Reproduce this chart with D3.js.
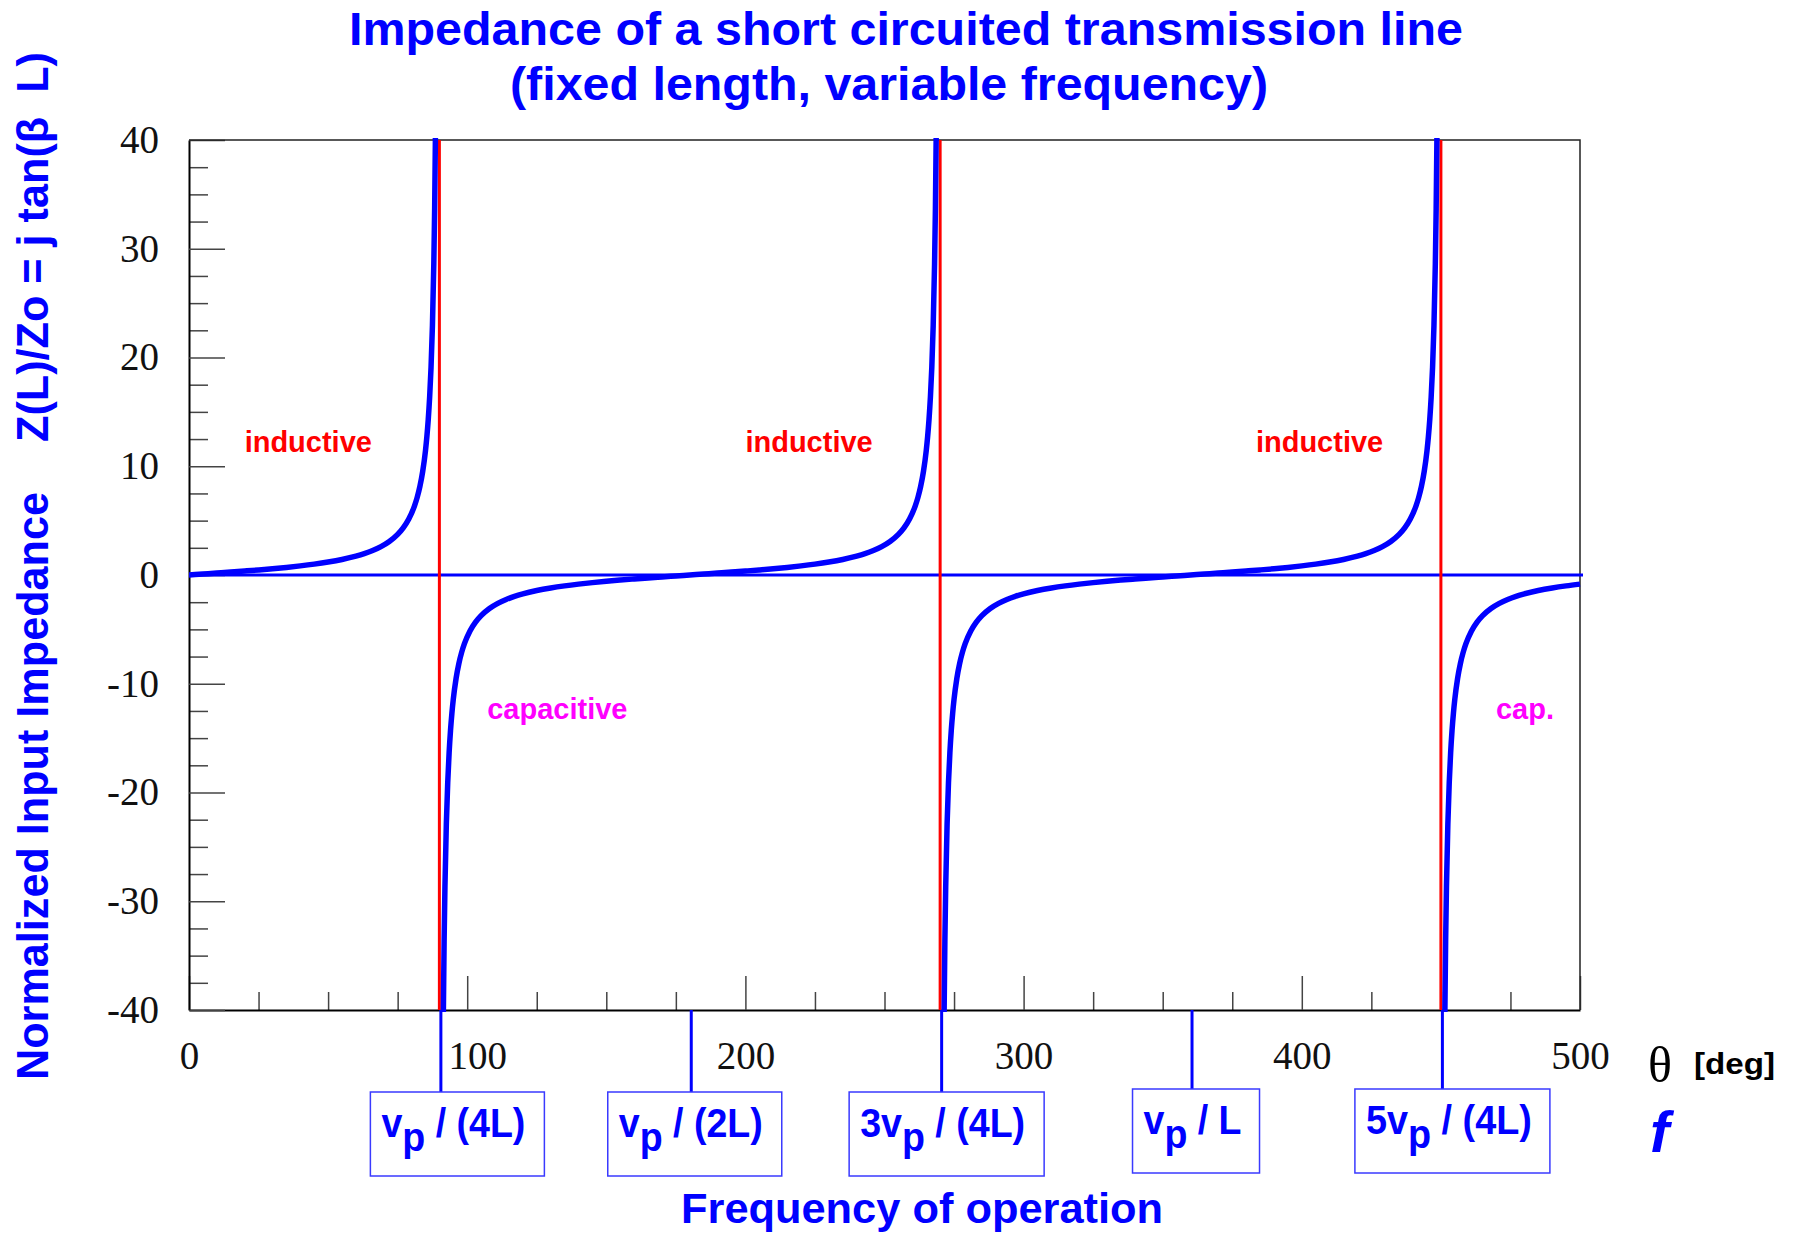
<!DOCTYPE html>
<html>
<head>
  <meta charset="utf-8">
  <title>Impedance of a short circuited transmission line</title>
  <script src="https://d3js.org/d3.v7.min.js"></script>
  <style>
    body { margin: 0; background: #fff; }
    svg text { font-family: "Liberation Sans", Arial, Helvetica, sans-serif; }
  </style>
</head>
<body>
  <script>
    // axis ticks (theta in degrees, normalized impedance)
    var xTicks = [0, 100, 200, 300, 400, 500];
    var xMinorTicks = [25, 50, 75, 125, 150, 175, 225, 250, 275, 325, 350, 375, 425, 450, 475];
    var yTicks = [-40, -30, -20, -10, 0, 10, 20, 30, 40];
    var yMinorTicks = [-37.5, -35, -32.5, -27.5, -25, -22.5, -17.5, -15, -12.5, -7.5, -5, -2.5,
                       2.5, 5, 7.5, 12.5, 15, 17.5, 22.5, 25, 27.5, 32.5, 35, 37.5];

    // Z(L)/Zo, one array per branch: [theta, z]
    var branch1 = [
      [0, 0], [5, 0.087], [10, 0.176], [15, 0.268], [20, 0.364], [25, 0.466], [30, 0.577],
      [35, 0.7], [40, 0.839], [45, 1.0], [50, 1.192], [55, 1.428], [60, 1.732], [63, 1.963],
      [66, 2.246], [69, 2.605], [72, 3.078], [75, 3.732], [77, 4.331], [79, 5.145], [81, 6.314],
      [82, 7.115], [83, 8.144], [84, 9.514], [85, 11.43], [85.5, 12.71], [86, 14.3], [86.5, 16.35],
      [87, 19.08], [87.5, 22.9], [88, 28.64], [88.3, 33.69], [88.6, 40.9]
    ];
    var branch2 = [
      [91.4, -40.9], [91.7, -33.69], [92, -28.64], [92.5, -22.9], [93, -19.08], [93.5, -16.35],
      [94, -14.3], [94.5, -12.71], [95, -11.43], [96, -9.514], [97, -8.144], [98, -7.115],
      [99, -6.314], [101, -5.145], [103, -4.331], [105, -3.732], [108, -3.078], [111, -2.605],
      [114, -2.246], [117, -1.963], [120, -1.732], [125, -1.428], [130, -1.192], [135, -1.0],
      [140, -0.839], [145, -0.7], [150, -0.577], [155, -0.466], [160, -0.364], [165, -0.268],
      [170, -0.176], [175, -0.087], [180, 0], [185, 0.087], [190, 0.176], [195, 0.268],
      [200, 0.364], [205, 0.466], [210, 0.577], [215, 0.7], [220, 0.839], [225, 1.0],
      [230, 1.192], [235, 1.428], [240, 1.732], [243, 1.963], [246, 2.246], [249, 2.605],
      [252, 3.078], [255, 3.732], [257, 4.331], [259, 5.145], [261, 6.314], [262, 7.115],
      [263, 8.144], [264, 9.514], [265, 11.43], [265.5, 12.71], [266, 14.3], [266.5, 16.35],
      [267, 19.08], [267.5, 22.9], [268, 28.64], [268.3, 33.69], [268.6, 40.9]
    ];
    var branch3 = [
      [271.4, -40.9], [271.7, -33.69], [272, -28.64], [272.5, -22.9], [273, -19.08], [273.5, -16.35],
      [274, -14.3], [274.5, -12.71], [275, -11.43], [276, -9.514], [277, -8.144], [278, -7.115],
      [279, -6.314], [281, -5.145], [283, -4.331], [285, -3.732], [288, -3.078], [291, -2.605],
      [294, -2.246], [297, -1.963], [300, -1.732], [305, -1.428], [310, -1.192], [315, -1.0],
      [320, -0.839], [325, -0.7], [330, -0.577], [335, -0.466], [340, -0.364], [345, -0.268],
      [350, -0.176], [355, -0.087], [360, 0], [365, 0.087], [370, 0.176], [375, 0.268],
      [380, 0.364], [385, 0.466], [390, 0.577], [395, 0.7], [400, 0.839], [405, 1.0],
      [410, 1.192], [415, 1.428], [420, 1.732], [423, 1.963], [426, 2.246], [429, 2.605],
      [432, 3.078], [435, 3.732], [437, 4.331], [439, 5.145], [441, 6.314], [442, 7.115],
      [443, 8.144], [444, 9.514], [445, 11.43], [445.5, 12.71], [446, 14.3], [446.5, 16.35],
      [447, 19.08], [447.5, 22.9], [448, 28.64], [448.3, 33.69], [448.6, 40.9]
    ];
    var branch4 = [
      [451.4, -40.9], [451.7, -33.69], [452, -28.64], [452.5, -22.9], [453, -19.08], [453.5, -16.35],
      [454, -14.3], [454.5, -12.71], [455, -11.43], [456, -9.514], [457, -8.144], [458, -7.115],
      [459, -6.314], [461, -5.145], [463, -4.331], [465, -3.732], [468, -3.078], [471, -2.605],
      [474, -2.246], [477, -1.963], [480, -1.732], [485, -1.428], [490, -1.192], [495, -1.0],
      [500, -0.839]
    ];

    var resonances = [90, 270, 450];          // red vertical lines
    var markerTheta = [90, 180, 270, 360, 450];
    var markerLabels = [
      ['v', 'p', ' / (4L)'],
      ['v', 'p', ' / (2L)'],
      ['3v', 'p', ' / (4L)'],
      ['v', 'p', ' / L'],
      ['5v', 'p', ' / (4L)']
    ];
    var regionLabels = ['inductive', 'inductive', 'inductive', 'capacitive', 'cap.'];

    // layout
    var margin = { top: 140, left: 189 };
    var graphWidth = 1391, graphHeight = 870;
    var blue = '#0000ff', red = '#ff0000', magenta = '#ff00ff';
    // label boxes under the axis: offset of box from its marker line, box size, text width
    var boxLayout = [
      { dx: -69, w: 174, top: 82, tw: 144 },
      { dx: -82, w: 174, top: 82, tw: 144 },
      { dx: -91, w: 195, top: 82, tw: 165 },
      { dx: -58, w: 127, top: 79, tw: 98 },
      { dx: -86, w: 195, top: 79, tw: 166 }
    ];
    // region note anchors in data units
    var notePos = [
      { t: 20, z: 11.3, c: red }, { t: 200, z: 11.3, c: red }, { t: 383.5, z: 11.3, c: red },
      { t: 107.2, z: -13.2, c: magenta }, { t: 469.8, z: -13.2, c: magenta }
    ];

    var svg = d3.select('body').append('svg')
      .attr('width', 1796)
      .attr('height', 1237);

    var x = d3.scaleLinear().domain([0, 500]).range([0, graphWidth]);
    var y = d3.scaleLinear().domain([-40, 40]).range([graphHeight, 0]);
    var plainNum = function(d) { return String(d); };   // ascii hyphen for negatives

    var plot = svg.append('g')
      .attr('transform', 'translate(' + margin.left + ',' + margin.top + ')');

    plot.append('clipPath').attr('id', 'clip')
      .append('rect')
      .attr('x', 0).attr('y', -2)
      .attr('width', graphWidth + 4).attr('height', graphHeight + 4);

    // minor ticks
    plot.append('g')
      .attr('transform', 'translate(0,' + graphHeight + ')')
      .call(d3.axisBottom(x).tickValues(xMinorTicks).tickSize(-18).tickFormat(''))
      .call(function(g) { g.select('.domain').remove(); });
    plot.append('g')
      .call(d3.axisLeft(y).tickValues(yMinorTicks).tickSize(-19).tickFormat(''))
      .call(function(g) { g.select('.domain').remove(); });

    // major ticks and labels
    var xAxisG = plot.append('g')
      .attr('transform', 'translate(0,' + graphHeight + ')')
      .call(d3.axisBottom(x).tickValues(xTicks).tickFormat(plainNum)
        .tickSizeInner(-34).tickSizeOuter(0).tickPadding(31));
    var yAxisG = plot.append('g')
      .call(d3.axisLeft(y).tickValues(yTicks).tickFormat(plainNum)
        .tickSizeInner(-36).tickSizeOuter(0).tickPadding(30));

    plot.selectAll('.tick line').attr('stroke', '#444').attr('stroke-width', 1.5);
    [xAxisG, yAxisG].forEach(function(g) {
      g.select('.domain').attr('stroke', '#000').attr('stroke-width', 2);
      g.selectAll('text')
        .style('font-family', '"Liberation Serif", "Times New Roman", serif')
        .style('font-size', '39px')
        .attr('fill', '#111');
    });
    // the 100 label sits a little right of its tick in the original
    xAxisG.selectAll('.tick text').filter(function(d) { return d === 100; }).attr('dx', 10);

    // top and right frame
    plot.append('path')
      .attr('d', 'M0,0H' + x(500) + 'V' + graphHeight)
      .attr('fill', 'none')
      .attr('stroke', '#222')
      .attr('stroke-width', 1.5);

    // zero line
    plot.append('line')
      .attr('x1', x(0)).attr('x2', x(500) + 3)
      .attr('y1', y(0)).attr('y2', y(0))
      .attr('stroke', blue).attr('stroke-width', 3);

    // resonance lines
    plot.selectAll('line.res')
      .data(resonances)
      .enter().append('line')
      .attr('class', 'res')
      .attr('x1', function(d) { return x(d); })
      .attr('x2', function(d) { return x(d); })
      .attr('y1', y(40)).attr('y2', y(-40))
      .attr('stroke', red).attr('stroke-width', 3);

    // tan curve
    var line = d3.line()
      .x(function(d) { return x(d[0]); })
      .y(function(d) { return y(d[1]); })
      .curve(d3.curveMonotoneX);
    plot.append('g').attr('clip-path', 'url(#clip)')
      .selectAll('path')
      .data([branch1, branch2, branch3, branch4])
      .enter().append('path')
      .attr('d', line)
      .attr('fill', 'none')
      .attr('stroke', blue)
      .attr('stroke-width', 5.5);

    // region notes
    plot.selectAll('text.note')
      .data(regionLabels)
      .enter().append('text')
      .attr('class', 'note')
      .attr('x', function(d, i) { return x(notePos[i].t); })
      .attr('y', function(d, i) { return y(notePos[i].z); })
      .attr('fill', function(d, i) { return notePos[i].c; })
      .style('font-weight', 'bold')
      .style('font-size', '29px')
      .text(function(d) { return d; });

    // frequency markers under the axis
    var marker = plot.selectAll('g.marker')
      .data(markerTheta)
      .enter().append('g')
      .attr('class', 'marker');
    marker.append('line')
      .attr('x1', function(d) { return x(d) + 1.5; })
      .attr('x2', function(d) { return x(d) + 1.5; })
      .attr('y1', graphHeight)
      .attr('y2', function(d, i) { return graphHeight + boxLayout[i].top; })
      .attr('stroke', blue).attr('stroke-width', 3);
    marker.append('rect')
      .attr('x', function(d, i) { return x(d) + boxLayout[i].dx; })
      .attr('y', function(d, i) { return graphHeight + boxLayout[i].top; })
      .attr('width', function(d, i) { return boxLayout[i].w; })
      .attr('height', 84)
      .attr('fill', 'none')
      .attr('stroke', '#3a3aff')
      .attr('stroke-width', 1.5);
    var mText = marker.append('text')
      .attr('x', function(d, i) { return x(d) + boxLayout[i].dx + 11; })
      .attr('y', function(d, i) { return graphHeight + boxLayout[i].top + 45; })
      .attr('textLength', function(d, i) { return boxLayout[i].tw; })
      .attr('lengthAdjust', 'spacingAndGlyphs')
      .attr('fill', blue)
      .style('font-weight', 'bold')
      .style('font-size', '40px');
    mText.append('tspan').text(function(d, i) { return markerLabels[i][0]; });
    mText.append('tspan').attr('dy', 14).text(function(d, i) { return markerLabels[i][1]; });
    mText.append('tspan').attr('dy', -14).style('white-space', 'pre')
      .text(function(d, i) { return markerLabels[i][2]; });

    // titles
    svg.append('text')
      .attr('x', 349).attr('y', 45)
      .attr('textLength', 1114).attr('lengthAdjust', 'spacingAndGlyphs')
      .attr('fill', blue)
      .style('font-weight', 'bold').style('font-size', '47px')
      .text('Impedance of a short circuited transmission line');
    svg.append('text')
      .attr('x', 510).attr('y', 100)
      .attr('textLength', 758).attr('lengthAdjust', 'spacingAndGlyphs')
      .attr('fill', blue)
      .style('font-weight', 'bold').style('font-size', '47px')
      .text('(fixed length, variable frequency)');

    // y axis title, two pieces
    svg.append('text')
      .attr('transform', 'translate(48,1080) rotate(-90)')
      .attr('textLength', 588).attr('lengthAdjust', 'spacingAndGlyphs')
      .attr('fill', blue)
      .style('font-weight', 'bold').style('font-size', '45px')
      .text('Normalized Input Impedance');
    svg.append('text')
      .attr('transform', 'translate(48,442) rotate(-90)')
      .attr('textLength', 390).attr('lengthAdjust', 'spacingAndGlyphs')
      .attr('fill', blue)
      .style('font-weight', 'bold').style('font-size', '45px')
      .style('white-space', 'pre')
      .text('Z(L)/Zo = j tan(\u03b2  L)');

    // x axis titles
    svg.append('text')
      .attr('x', 681).attr('y', 1223)
      .attr('textLength', 482).attr('lengthAdjust', 'spacingAndGlyphs')
      .attr('fill', blue)
      .style('font-weight', 'bold').style('font-size', '42px')
      .text('Frequency of operation');
    svg.append('text')
      .attr('x', 1648).attr('y', 1082)
      .attr('fill', '#000')
      .style('font-family', '"Liberation Serif", "Times New Roman", serif')
      .style('font-size', '50px')
      .text('\u03b8');
    svg.append('text')
      .attr('x', 1694).attr('y', 1074)
      .attr('textLength', 81).attr('lengthAdjust', 'spacingAndGlyphs')
      .attr('fill', '#000')
      .style('font-weight', 'bold').style('font-size', '30px')
      .text('[deg]');
    svg.append('text')
      .attr('x', 1650).attr('y', 1152)
      .attr('fill', blue)
      .style('font-weight', 'bold').style('font-style', 'italic').style('font-size', '58px')
      .text('f');
  </script>
</body>
</html>
